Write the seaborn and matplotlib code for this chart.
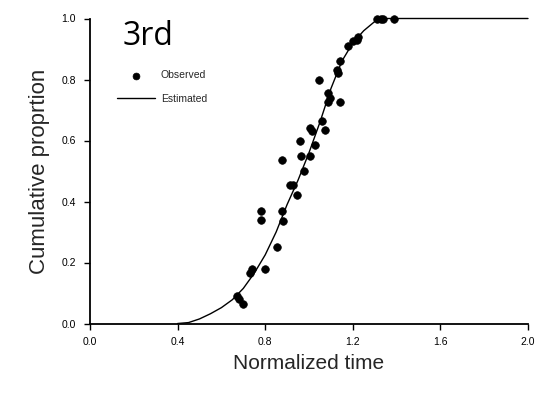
import matplotlib
matplotlib.use("Agg")
import matplotlib.pyplot as plt
import seaborn as sns
import pandas as pd

# Observed points
obs_x = [0.67, 0.68, 0.70, 0.73, 0.74, 0.80, 0.78, 0.78, 0.855, 0.875, 0.88, 0.875,
         0.915, 0.925, 0.945, 0.975, 0.965, 1.005, 0.96, 1.005, 1.012, 1.027, 1.073,
         1.058, 1.045, 1.088, 1.096, 1.088, 1.142, 1.126, 1.134, 1.142, 1.179, 1.20,
         1.218, 1.225, 1.31, 1.33, 1.34, 1.39]
obs_y = [0.09, 0.08, 0.065, 0.165, 0.18, 0.18, 0.37, 0.34, 0.25, 0.37, 0.335, 0.535,
         0.455, 0.455, 0.42, 0.50, 0.55, 0.55, 0.60, 0.64, 0.63, 0.585, 0.635,
         0.665, 0.80, 0.755, 0.738, 0.727, 0.727, 0.83, 0.82, 0.86, 0.91, 0.925,
         0.93, 0.94, 1.0, 1.0, 1.0, 1.0]

# Estimated curve
est_x = [0.40, 0.45, 0.50, 0.55, 0.60, 0.65, 0.70, 0.75, 0.80, 0.85, 0.90, 0.95,
         1.00, 1.05, 1.10, 1.15, 1.20, 1.25, 1.30, 1.35, 1.40, 2.00]
est_y = [0.0, 0.003, 0.015, 0.032, 0.052, 0.078, 0.115, 0.165, 0.225, 0.30, 0.39, 0.47,
         0.56, 0.66, 0.77, 0.86, 0.92, 0.96, 0.99, 1.0, 1.0, 1.0]

x_ticks = [0.0, 0.4, 0.8, 1.2, 1.6, 2.0]
y_ticks = [0.0, 0.2, 0.4, 0.6, 0.8, 1.0]

sns.set_style("ticks")
plt.rcParams['font.family'] = ['Liberation Sans', 'DejaVu Sans']

fig = plt.figure(figsize=(5.48, 3.98), dpi=100)
ax = fig.add_axes([90/548, 1 - 323.5/398, 438/548, 305/398])

obs = pd.DataFrame({"x": obs_x, "y": obs_y})
est = pd.DataFrame({"x": est_x, "y": est_y})

sns.lineplot(data=est, x="x", y="y", ax=ax, color="black", linewidth=1.0,
             label="Estimated", zorder=2)
for ln in ax.get_lines():
    ln.set_clip_on(False)
sns.scatterplot(data=obs, x="x", y="y", ax=ax, color="black", s=30, marker="o",
                edgecolor="black", linewidth=0.5, label="Observed", zorder=3,
                clip_on=False)

ax.set_xlim(0, 2.0)
ax.set_ylim(0, 1.0)
ax.set_xticks(x_ticks)
ax.set_yticks(y_ticks)
ax.set_xticklabels([f"{v:.1f}" for v in x_ticks], fontsize=7.5)
ax.set_yticklabels([f"{v:.1f}" for v in y_ticks], fontsize=7.5)
ax.tick_params(direction="out", length=4, width=1, colors="black", pad=6)
for s in ["left", "bottom"]:
    ax.spines[s].set_linewidth(1.3)
    ax.spines[s].set_color("black")
sns.despine(ax=ax)

ax.set_xlabel("Normalized time", fontsize=15, labelpad=5)
ax.set_ylabel("Cumulative proprtion", fontsize=16, labelpad=8)

ax.text(0.15, 0.913, "3rd", fontsize=23, color="black", transform=ax.transData,
        va="baseline", family=['Open Sans', 'DejaVu Sans'])

handles, labels = ax.get_legend_handles_labels()
order = [labels.index("Observed"), labels.index("Estimated")]
ax.legend([handles[i] for i in order], [labels[i] for i in order],
          loc="upper left", bbox_to_anchor=(0.062, 0.83), frameon=False,
          fontsize=7.5, handlelength=3.6, handletextpad=0.6, labelspacing=1.3,
          borderpad=0, borderaxespad=0, markerscale=0.9)

fig.savefig("out.png", dpi=100)
